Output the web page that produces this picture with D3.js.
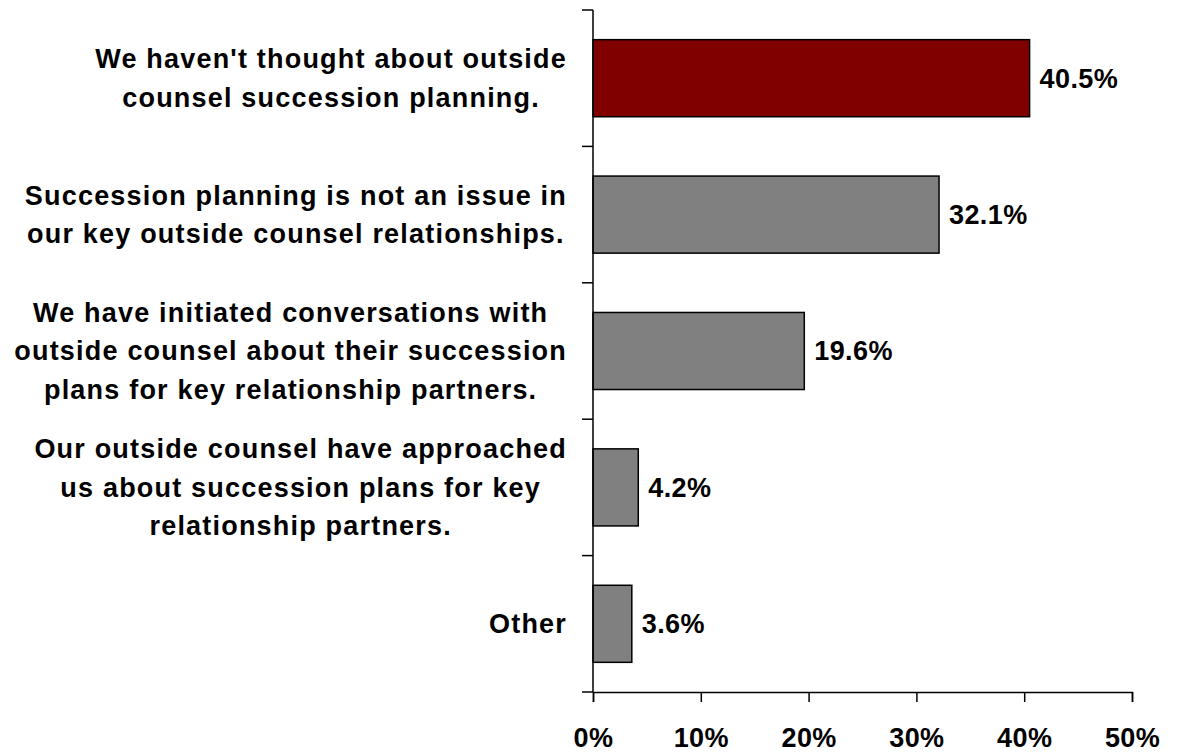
<!DOCTYPE html>
<html>
<head>
<meta charset="utf-8">
<script src="https://cdn.jsdelivr.net/npm/d3@7"></script>
<style>
  body { margin: 0; background: #fff; }
  text { font-family: "Liberation Sans", Arial, sans-serif; font-weight: bold; fill: #000; }
</style>
</head>
<body>
<svg width="1178" height="755"></svg>
<script>
// answers, one array of lines per label
let categories = [
  ["We haven't thought about outside", "counsel succession planning."],
  ["Succession planning is not an issue in", "our key outside counsel relationships."],
  ["We have initiated conversations with", "outside counsel about their succession", "plans for key relationship partners."],
  ["Our outside counsel have approached", "us about succession plans for key", "relationship partners."],
  ["Other"]
];
let values = [40.5, 32.1, 19.6, 4.2, 3.6];
let xTicks = [0, 10, 20, 30, 40, 50];
let colors = ['#800000', '#808080', '#808080', '#808080', '#808080'];

let svg = d3.select('svg');

let x = d3.scaleLinear().domain([0, 50]).range([593, 1132]);
let y = d3.scaleBand().domain(d3.range(categories.length)).range([10, 692]).paddingInner(0.435).paddingOuter(0.2175);

// bars
svg.append('g')
  .selectAll('rect')
  .data(values)
  .join('rect')
  .attr('x', x(0))
  .attr('y', (d, i) => y(i))
  .attr('width', d => x(d) - x(0))
  .attr('height', y.bandwidth())
  .style('fill', (d, i) => colors[i])
  .style('stroke', '#000')
  .style('stroke-width', 1.5);

// value labels
svg.append('g')
  .selectAll('text')
  .data(values)
  .join('text')
  .attr('x', d => x(d) + 10)
  .attr('y', (d, i) => y(i) + y.bandwidth() / 2)
  .attr('dy', '0.35em')
  .style('font-size', '27px')
  .style('letter-spacing', '0.4px')
  .text(d => d.toFixed(1) + '%');

// y axis: line plus ticks at band edges
let yEdges = d3.range(categories.length + 1).map(i => 10 + i * (682 / categories.length));
svg.append('line')
  .attr('x1', 593).attr('x2', 593)
  .attr('y1', 10).attr('y2', 692)
  .style('stroke', '#000').style('stroke-width', 1.5);
svg.append('g')
  .selectAll('line')
  .data(yEdges)
  .join('line')
  .attr('x1', 582).attr('x2', 593)
  .attr('y1', d => d).attr('y2', d => d)
  .style('stroke', '#000').style('stroke-width', 1.5);

// x axis
let xAxis = d3.axisBottom(x)
  .tickValues(xTicks)
  .tickSize(10)
  .tickPadding(26)
  .tickFormat(d => d + '%');
let gx = svg.append('g')
  .attr('transform', 'translate(0,692)')
  .call(xAxis);
gx.select('.domain').style('stroke', '#000').style('stroke-width', 1.5);
gx.selectAll('.tick line').style('stroke', '#000').style('stroke-width', 1.5);
gx.selectAll('.tick text')
  .style('font-family', '"Liberation Sans", Arial, sans-serif')
  .style('font-weight', 'bold')
  .style('font-size', '27px')
  .style('letter-spacing', '0.4px')
  .attr('dy', '0.71em');

// category labels: block right-aligned at 567, lines centered in block
let lineH = 38.5;
categories.forEach(function(lines, i) {
  let g = svg.append('g');
  let cy = y(i) + y.bandwidth() / 2;
  let texts = g.selectAll('text')
    .data(lines)
    .join('text')
    .attr('y', (d, j) => cy + (j - (lines.length - 1) / 2) * lineH)
    .attr('dy', '0.35em')
    .attr('text-anchor', 'middle')
    .style('font-size', '27px')
    .style('letter-spacing', '1.2px')
    .text(d => d);
  let maxW = d3.max(texts.nodes(), n => n.getComputedTextLength());
  texts.attr('x', 567 - maxW / 2);
});
</script>
</body>
</html>
